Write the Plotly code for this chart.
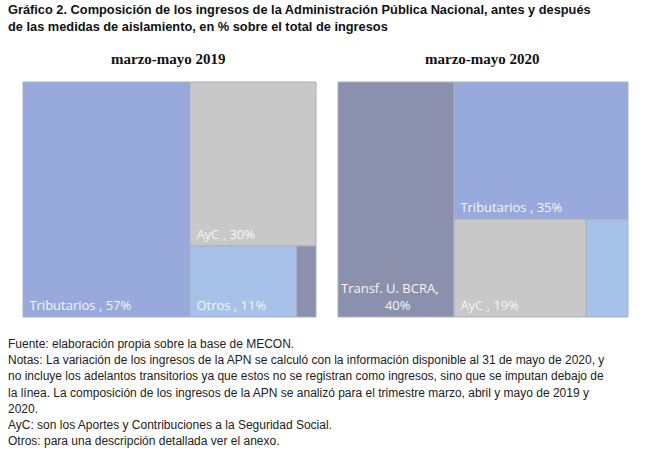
import plotly.graph_objects as go

# datos (% sobre el total de ingresos)
categorias = ['Tributarios', 'AyC', 'Otros', 'Transf. U. BCRA']
valores_2019 = [57, 30, 11, 2]
valores_2020 = [35, 19, 6, 40]
periodos = ['marzo-mayo 2019', 'marzo-mayo 2020']

colores = {'Tributarios': '#98aadb',
           'AyC': '#c8c8c8',
           'Otros': '#a6c2e8',
           'Transf. U. BCRA': '#8b91ad'}

titulo = ['Gráfico 2. Composición de los ingresos de la Administración Pública Nacional, antes y después',
          'de las medidas de aislamiento, en % sobre el total de ingresos']

notas = ['Fuente: elaboración propia sobre la base de MECON.',
         'Notas: La variación de los ingresos de la APN se calculó con la información disponible al 31 de mayo de 2020, y',
         'no incluye los adelantos transitorios ya que estos no se registran como ingresos, sino que se imputan debajo de',
         'la línea. La composición de los ingresos de la APN se analizó para el trimestre marzo, abril y mayo de 2019 y',
         '2020.',
         'AyC: son los Aportes y Contribuciones a la Seguridad Social.',
         'Otros: para una descripción detallada ver el anexo.']

W, H = 655, 459


def px_x(x):
    return x / W


def px_y(y):
    return 1 - y / H


def etiquetas(valores, min_visible=8):
    textos = []
    for cat, val in zip(categorias, valores):
        if val < min_visible:
            textos.append('')
        elif cat == 'Transf. U. BCRA':
            textos.append(cat + ',<br>' + '\u00a0' * 13 + str(val) + '%')
        else:
            textos.append('\u00a0' + cat + ' , ' + str(val) + '%')
    return textos


def treemap(valores, x0, x1):
    return go.Treemap(
        labels=categorias,
        parents=[''] * len(categorias),
        values=valores,
        text=etiquetas(valores),
        textinfo='text',
        textposition='bottom left',
        textfont={'family': 'Open Sans', 'size': 13, 'color': '#f5f5f5'},
        marker={'colors': [colores[c] for c in categorias],
                'line': {'width': 1, 'color': '#a9afc4'},
                'pad': {'t': 0, 'l': 0, 'r': 0, 'b': 0}},
        tiling={'packing': 'binary', 'pad': 0},
        pathbar={'visible': False},
        sort=True,
        hoverinfo='label+value',
        domain={'x': [px_x(x0), px_x(x1)], 'y': [px_y(317), px_y(82)]}
    )


fig = go.Figure()
fig.add_trace(treemap(valores_2019, 23, 316))
fig.add_trace(treemap(valores_2020, 338, 628))

anotaciones = [dict(text='<b>' + '<br>'.join(titulo) + '</b>', x=px_x(6), y=px_y(0),
                    xanchor='left', yanchor='top', align='left',
                    font={'family': 'Liberation Sans', 'size': 12.8, 'color': '#111111'})]
for i, linea in enumerate(notas):
    anotaciones.append(dict(text=linea, x=px_x(6), y=px_y(344 + i * 16.2),
                            xanchor='left', yanchor='middle',
                            font={'family': 'Liberation Sans', 'size': 12, 'color': '#222222'}))
for cx, periodo in zip([168, 482], periodos):
    anotaciones.append(dict(text='<b>' + periodo + '</b>', x=px_x(cx), y=px_y(59),
                            xanchor='center', yanchor='middle',
                            font={'family': 'Liberation Serif', 'size': 15, 'color': '#111111'}))
for a in anotaciones:
    a.update(xref='paper', yref='paper', showarrow=False)

fig.update_layout(
    width=W, height=H,
    margin={'l': 0, 'r': 0, 't': 0, 'b': 0},
    paper_bgcolor='white',
    annotations=anotaciones
)

# sin el margen por defecto del body, la figura ocupa la ventana completa
fig.write_html('out.html', config={'displayModeBar': False},
               post_script="document.body.style.margin = '0';")
